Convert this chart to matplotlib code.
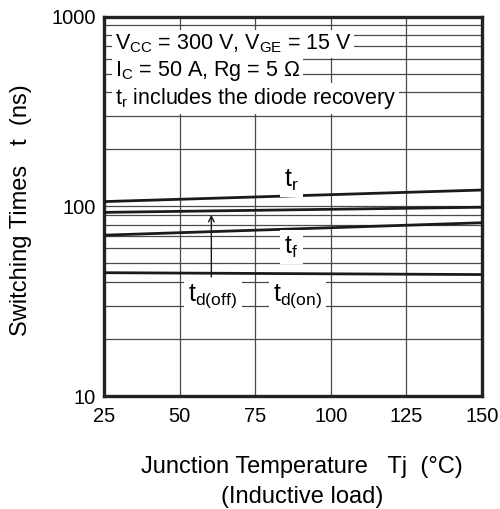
import matplotlib
matplotlib.use("Agg")
import matplotlib.pyplot as plt
from matplotlib.ticker import LogLocator, NullFormatter, FixedLocator, FixedFormatter

plt.rcParams['font.family'] = ['Liberation Sans', 'DejaVu Sans']
plt.rcParams['mathtext.fontset'] = 'custom'
plt.rcParams['mathtext.rm'] = 'Liberation Sans'

# data
temps = [25, 150]
t_r = [106, 122]
td_off = [93, 99]
t_f = [70.5, 82]
td_on = [44.7, 43.7]

x_ticks = [25, 50, 75, 100, 125, 150]
y_ticks = [10, 100, 1000]

fig = plt.figure(figsize=(5.0, 5.09), dpi=100)
ax = fig.add_axes([0.208, 0.222, 0.756, 0.745])

ax.set_yscale('log')
ax.set_xlim(25, 150)
ax.set_ylim(10, 1000)

# grid: vertical at majors, horizontal at every 1-2-3...9 step
ax.xaxis.set_major_locator(FixedLocator(x_ticks))
ax.yaxis.set_major_locator(FixedLocator(y_ticks))
ax.yaxis.set_major_formatter(FixedFormatter([str(v) for v in y_ticks]))
ax.yaxis.set_minor_locator(LogLocator(base=10, subs=range(2, 10)))
ax.yaxis.set_minor_formatter(NullFormatter())
ax.grid(True, which='major', axis='x', color='#4a4a4a', lw=0.9)
ax.grid(True, which='both', axis='y', color='#4a4a4a', lw=0.9)

ax.tick_params(axis='both', which='major', length=0, labelsize=14.5, pad=6)
ax.tick_params(axis='x', which='major', pad=8)
ax.tick_params(axis='y', which='minor', length=0)
for s in ax.spines.values():
    s.set_linewidth(2.4)
    s.set_color('#222222')

for ys in (t_r, td_off, t_f, td_on):
    ax.plot(temps, ys, color='#1a1a1a', lw=2.0, zorder=3)

box = dict(facecolor='white', edgecolor='none', pad=2)
ax.text(28.5, 722, r'$\mathregular{V_{CC}}$ = 300 V, $\mathregular{V_{GE}}$ = 15 V',
        fontsize=15.5, va='center', ha='left', bbox=box, zorder=4)
ax.text(28.5, 518, r'$\mathregular{I_C}$ = 50 A, Rg = 5 $\Omega$',
        fontsize=15.5, va='center', ha='left', bbox=box, zorder=4)
ax.text(28.5, 371, r'$\mathregular{t_r}$ includes the diode recovery',
        fontsize=15.5, va='center', ha='left', bbox=box, zorder=4)

lbl = dict(fontsize=18, ha='center', va='center', bbox=dict(facecolor='white', edgecolor='none', pad=3), zorder=4)
ax.text(87, 137, r'$\mathregular{t_r}$', **lbl)
ax.text(87, 61, r'$\mathregular{t_f}$', **lbl)
ax.text(61, 33.5, r'$\mathregular{t_{d(off)}}$', **lbl)
ax.text(89, 33.5, r'$\mathregular{t_{d(on)}}$', **lbl)

ax.annotate('', xy=(60.5, 93.5), xytext=(60.5, 41),
            arrowprops=dict(arrowstyle='->', color='#1a1a1a', lw=1.0), zorder=4)

ax.set_ylabel('Switching Times   t  (ns)', fontsize=17)
ax.yaxis.set_label_coords(-0.19, 0.49)
fig.text(0.604, 0.083, 'Junction Temperature   Tj  (°C)', fontsize=17, ha='center', va='center')
fig.text(0.604, 0.024, '(Inductive load)', fontsize=17, ha='center', va='center')

fig.savefig('out.png', dpi=100)
